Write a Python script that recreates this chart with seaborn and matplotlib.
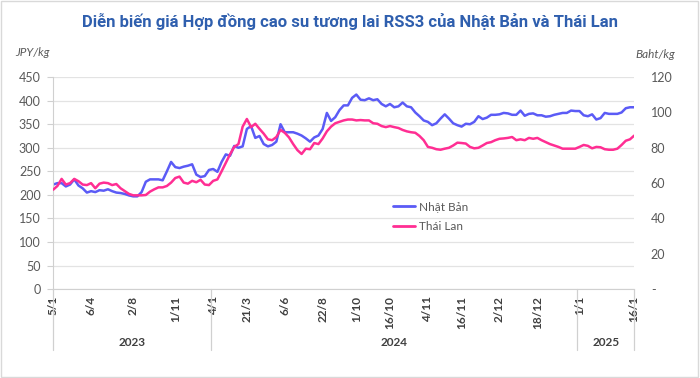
import pandas as pd
import seaborn as sns
import matplotlib.pyplot as plt
import matplotlib.transforms as mtransforms
from matplotlib.lines import Line2D
from matplotlib.patches import Rectangle
from matplotlib.ticker import FuncFormatter

# Giá RSS3 Nhật Bản (JPY/kg, trục trái)
japan = [222, 225, 225, 218, 222, 233, 220, 214, 205, 208,
         206, 210, 209, 212, 208, 205, 204, 202, 199, 197,
         197, 206, 228, 233, 233, 233, 231, 250, 270, 259,
         257, 260, 262, 265, 243, 238, 240, 253, 255, 249,
         270, 286, 283, 304, 300, 303, 340, 346, 321, 325,
         308, 303, 306, 313, 350, 333, 333, 333, 330, 326,
         320, 313, 322, 326, 340, 374, 357, 365, 380, 390,
         390, 406, 413, 402, 401, 405, 401, 403, 393, 388,
         393, 386, 388, 396, 388, 386, 375, 367, 358, 355,
         348, 352, 362, 371, 362, 352, 348, 345, 351, 350,
         355, 367, 361, 364, 370, 370, 371, 374, 373, 370,
         370, 379, 368, 372, 373, 369, 369, 366, 367, 370,
         372, 374, 374, 379, 378, 378, 369, 367, 371, 360,
         363, 374, 372, 372, 372, 375, 384, 386, 386]

# Giá RSS3 Thái Lan (Baht/kg, trục phải)
thailand = [56.3, 58.4, 62.4, 59.2, 60.0, 62.4, 61.1, 59.2, 58.9, 60.0,
            57.1, 59.7, 60.3, 60.0, 58.9, 59.5, 57.1, 55.5, 53.9, 53.1,
            53.1, 53.1, 53.3, 55.2, 56.5, 57.6, 57.6, 58.4, 60.3, 62.9,
            63.7, 60.3, 59.7, 61.3, 60.5, 61.9, 59.2, 58.9, 61.3, 62.1,
            66.7, 71.5, 76.3, 80.5, 82.1, 92.0, 96.3, 91.7, 93.6, 90.7,
            88.0, 84.8, 84.3, 86.1, 90.1, 88.5, 85.9, 82.1, 78.7, 76.5,
            79.5, 79.2, 82.7, 82.1, 85.3, 89.3, 92.0, 93.9, 94.7, 95.5,
            96.0, 96.0, 95.5, 95.7, 95.5, 95.5, 93.9, 93.6, 92.3, 91.7,
            92.3, 91.7, 91.2, 90.1, 89.3, 88.8, 88.5, 86.7, 84.3, 80.5,
            80.0, 79.2, 78.9, 79.5, 80.0, 81.3, 82.9, 82.7, 82.4, 80.5,
            79.7, 80.0, 81.3, 82.7, 83.2, 84.3, 85.1, 85.3, 85.6, 86.1,
            84.3, 84.8, 84.3, 85.6, 85.1, 85.6, 84.3, 83.2, 82.1, 81.3,
            80.5, 79.5, 79.5, 79.5, 79.5, 80.5, 81.6, 81.1, 79.7, 80.5,
            80.3, 79.2, 78.9, 78.9, 79.5, 81.6, 84.0, 84.8, 86.9]

tick_pos = [0, 9, 19, 29, 38, 46, 55, 64, 72, 80, 89, 97, 106, 115, 125, 138]
tick_labels = ['5/1', '6/4', '2/8', '1/11', '4/1', '21/3', '6/6', '22/8',
               '1/10', '16/10', '4/11', '16/11', '2/12', '18/12', '1/1', '16/1']
years = ['2023', '2024', '2025']
year_edges = [0, 37.5, 124.5, 138]

df = pd.DataFrame({'idx': range(len(japan)), 'Nhật Bản': japan, 'Thái Lan': thailand})

blue = '#5b5bf6'
pink = '#ff2e93'
grey_txt = '#595959'
grid_c = '#e3e3e3'

sns.set_style('white')
plt.rcParams['font.family'] = ['Lato', 'DejaVu Sans']

fig = plt.figure(figsize=(7, 3.78), dpi=100)
ax = fig.add_axes([0.076, 0.235, 0.830, 0.561])
ax2 = ax.twinx()

sns.lineplot(data=df, x='idx', y='Nhật Bản', color=blue, lw=1.8, ax=ax)
sns.lineplot(data=df, x='idx', y='Thái Lan', color=pink, lw=1.8, ax=ax2)

ax.set_xlim(0, 138)
ax.set_ylim(0, 450)
ax.set_yticks(range(0, 451, 50))
ax2.set_ylim(0, 120)
ax2.set_yticks(range(0, 121, 20))
ax2.yaxis.set_major_formatter(FuncFormatter(lambda v, p: '-' if v == 0 else f'{v:.0f}'))

ax.grid(axis='y', color=grid_c, lw=0.9)
ax.set_axisbelow(True)
for a in (ax, ax2):
    a.set_xlabel('')
    a.set_ylabel('')
    for s in ('top', 'right'):
        a.spines[s].set_visible(False)
ax2.spines['left'].set_visible(False)
ax2.spines['bottom'].set_visible(False)
ax.spines['left'].set_color('#d0d0d0')
ax.spines['bottom'].set_color('#d0d0d0')

ax.tick_params(axis='y', length=4, color='#d0d0d0', pad=5, labelsize=9, labelcolor=grey_txt)
ax2.tick_params(axis='y', length=0, pad=12, labelsize=9, labelcolor=grey_txt)

ax.set_xticks(tick_pos)
ax.set_xticklabels(tick_labels, rotation=90, fontsize=8.5, fontweight='bold', color='#404040')
ax.tick_params(axis='x', length=0, pad=5)
for lab in ax.get_xticklabels():
    lab.set_va('top')
    lab.set_ha('center')

# nhóm năm dưới trục x
trans = mtransforms.blended_transform_factory(ax.transData, fig.transFigure)
for e in year_edges:
    fig.add_artist(Line2D([e, e], [1 - 289 / 378, 1 - 350 / 378], transform=trans,
                          color='#d0d0d0', lw=0.9))
for i, y in enumerate(years):
    mid = (year_edges[i] + year_edges[i + 1]) / 2
    fig.text(mid, 1 - 343 / 378, y, transform=trans, ha='center', va='center',
             fontsize=8.5, fontweight='bold', color='#404040')

handles = [Line2D([], [], color=blue, lw=2), Line2D([], [], color=pink, lw=2)]
ax2.legend(handles, ['Nhật Bản', 'Thái Lan'], loc='upper left',
           bbox_to_anchor=(382 / 700, 1 - 191 / 378), bbox_transform=fig.transFigure,
           frameon=False, fontsize=8.5, handlelength=1.9, handletextpad=0.3,
           labelspacing=0.75, labelcolor=grey_txt)

fig.text(0.5, 1 - 21 / 378, 'Diễn biến giá Hợp đồng cao su tương lai RSS3 của Nhật Bản và Thái Lan',
         ha='center', va='center', fontsize=12, fontweight='bold', color='#2f5fae',
         family=['Roboto', 'DejaVu Sans'])
fig.text(15 / 700, 1 - 53 / 378, 'JPY/kg', ha='left', va='center', fontsize=8.5,
         style='italic', color=grey_txt)
fig.text(635 / 700, 1 - 55 / 378, 'Baht/kg', ha='left', va='center', fontsize=8.5,
         style='italic', color=grey_txt)

fig.add_artist(Rectangle((0.002, 0.003), 0.995, 0.994, transform=fig.transFigure,
                         fill=False, ec='#d9d9d9', lw=1))

fig.savefig('out.png', dpi=100)
